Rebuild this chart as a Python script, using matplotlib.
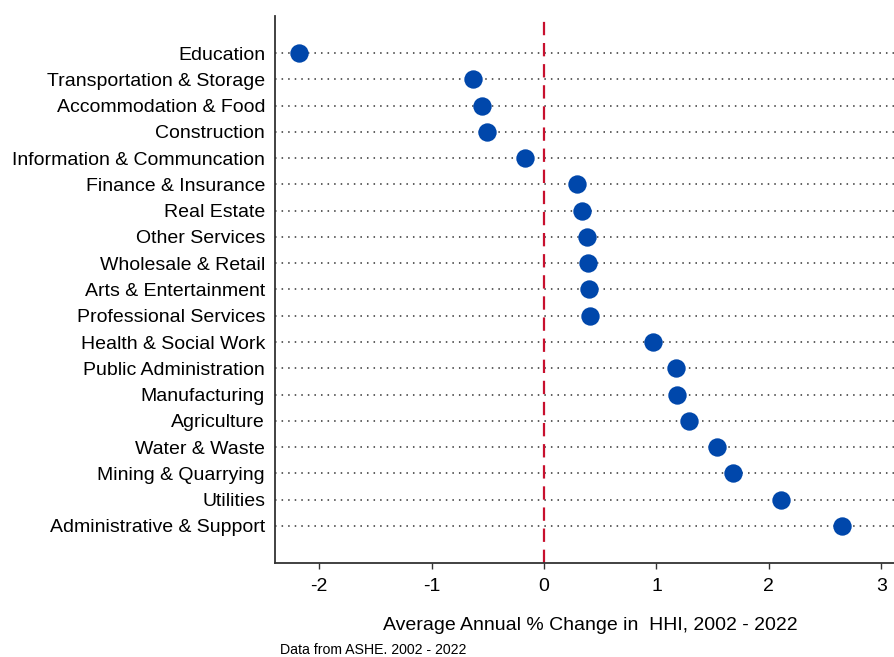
import numpy as np
import matplotlib
matplotlib.use("Agg")
import matplotlib.pyplot as plt

plt.rcParams['font.family'] = ['Liberation Sans', 'DejaVu Sans']

# sectors, top to bottom
sectors = ["Education", "Transportation & Storage", "Accommodation & Food",
           "Construction", "Information & Communcation", "Finance & Insurance",
           "Real Estate", "Other Services", "Wholesale & Retail",
           "Arts & Entertainment", "Professional Services",
           "Health & Social Work", "Public Administration", "Manufacturing",
           "Agriculture", "Water & Waste", "Mining & Quarrying", "Utilities",
           "Administrative & Support"]
hhi_change = [-2.18, -0.63, -0.55, -0.51, -0.17, 0.29, 0.34, 0.38, 0.39,
              0.40, 0.41, 0.97, 1.17, 1.18, 1.29, 1.54, 1.68, 2.11, 2.65]
xticks = [-2, -1, 0, 1, 2, 3]

fig = plt.figure(figsize=(8.94, 6.57), dpi=100)
ax = fig.add_axes([0.3073, 0.1431, 0.7036, 0.8326])

ypos = np.arange(len(sectors))[::-1]

# dotted guide lines
for y in ypos:
    ax.axhline(y, color='#333333', lw=1.1, ls=(0, (1, 3.3)), zorder=1)

ax.axvline(0, color='#C8102E', lw=1.6, ls=(0, (6, 3.5)), zorder=2)
ax.scatter(hhi_change, ypos, s=175, color='#0047AB', zorder=3, linewidths=0)

ax.set_xlim(-2.396, 3.2)
ax.set_ylim(-1.41, len(sectors) - 1 + 1.41)
ax.set_yticks(ypos)
ax.set_yticklabels(sectors, fontsize=14)
ax.set_xticks(xticks)
ax.set_xticklabels([str(t) for t in xticks], fontsize=14)
ax.tick_params(axis='y', length=0, pad=7)
ax.tick_params(axis='x', length=4, width=1, color='#333333', pad=7)

for s in ['top', 'right']:
    ax.spines[s].set_visible(False)
for s in ['left', 'bottom']:
    ax.spines[s].set_color('#333333')
    ax.spines[s].set_linewidth(1.3)

fig.text(590 / 894, 1 - 625 / 657, "Average Annual % Change in  HHI, 2002 - 2022",
         ha='center', va='center', fontsize=14)
fig.text(280 / 894, 1 - 650 / 657, "Data from ASHE. 2002 - 2022",
         ha='left', va='center', fontsize=10.2)

fig.savefig("out.png", dpi=100)
